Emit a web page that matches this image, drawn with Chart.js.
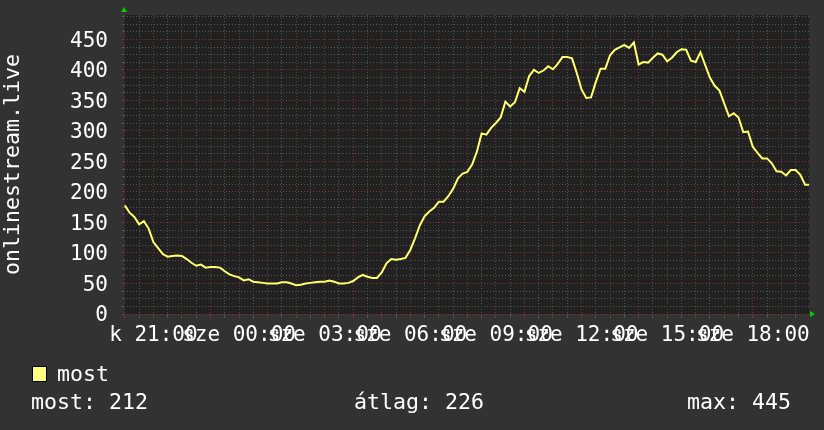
<!DOCTYPE html>
<html><head><meta charset="utf-8">
<script src="https://cdn.jsdelivr.net/npm/chart.js@4/dist/chart.umd.min.js"></script>
<style>
html,body{margin:0;padding:0;background:#323232;}
#wrap{position:relative;width:824px;height:430px;background:#323232;overflow:hidden;}
canvas{position:absolute;left:0;top:0;}
.t{position:absolute;font-family:"DejaVu Sans Mono",monospace;font-size:21.6px;color:#ffffff;line-height:24px;white-space:pre;}
#sw{position:absolute;left:32px;top:366px;width:13px;height:14px;background:#ffff80;border:1px solid #000;}
</style></head><body>
<div id="wrap">
<canvas id="c" width="824" height="430"></canvas>
<div id="sw"></div>
<div class="t" id="legend" style="left:57px;top:362px;"></div>
<div class="t" id="s0" style="left:31px;top:390px;"></div>
<div class="t" id="s1" style="left:354px;top:390px;"></div>
<div class="t" id="s2" style="left:687px;top:390px;"></div>
</div>
<script>
// ---- data ----
const seriesName = "most";
const axisTitle = "onlinestream.live";
const startHour = 20;        // first sample 20:00 (day "k")
const stepMinutes = 10;      // sample interval
const values = [
178,166,159,147,152,140,118,108,98,94,
95,96,95,90,84,79,81,76,77,77,
76,70,65,62,60,55,57,53,52,51,
50,50,50,52,52,50,47,48,50,51,
52,53,53,55,53,50,50,51,54,60,
64,61,59,59,68,83,90,89,90,92,
105,124,145,160,168,174,184,184,193,205,
222,230,233,245,266,296,294,305,313,322,
348,340,347,370,364,390,400,395,399,406,
401,410,421,421,419,395,368,354,355,380,
402,402,424,433,437,441,436,445,409,413,
412,420,427,425,414,420,429,434,433,415,
413,429,408,387,374,366,345,324,329,322,
298,299,274,264,255,255,247,234,233,227,
236,236,228,212,212
];
const tickHours  = [21, 24, 27, 30, 33, 36, 39, 42];
const tickLabels = ["k 21:00","sze 00:00","sze 03:00","sze 06:00","sze 09:00","sze 12:00","sze 15:00","sze 18:00"];
const statTexts  = ["most: 212", "átlag: 226", "max: 445"];
const xMin = 19.97, xMax = 43.97;
const yMin = 0, yMax = 490, yMajor = 50, yMinor = 12.5;

// ---- build ----
const points = values.map((v, i) => ({x: startHour + i * stepMinutes / 60, y: v}));
document.getElementById('legend').textContent = seriesName;
statTexts.forEach((s, i) => document.getElementById('s' + i).textContent = s);

const FONT = {family: '"DejaVu Sans Mono", monospace', size: 21};
const TFONT = {family: '"DejaVu Sans Mono", monospace', size: 21.6};
const RED = '#7c3434', GRAY = '#555555';

const bgPlugin = {
  id: 'bg',
  beforeDraw(chart) {
    const {ctx, chartArea: a} = chart;
    ctx.save();
    ctx.fillStyle = '#212121';
    ctx.fillRect(a.left, a.top, a.right - a.left, a.bottom - a.top);
    ctx.restore();
  },
  afterDraw(chart) {
    const {ctx, chartArea: a} = chart;
    ctx.save();
    ctx.fillStyle = '#00d000';
    ctx.beginPath();
    ctx.moveTo(a.left - 3, a.top - 3);
    ctx.lineTo(a.left + 3, a.top - 3);
    ctx.lineTo(a.left, a.top - 8);
    ctx.closePath(); ctx.fill();
    ctx.beginPath();
    ctx.moveTo(a.right + 1, a.bottom - 3);
    ctx.lineTo(a.right + 1, a.bottom + 3);
    ctx.lineTo(a.right + 6, a.bottom);
    ctx.closePath(); ctx.fill();
    ctx.restore();
  }
};

new Chart(document.getElementById('c'), {
  type: 'line',
  data: {datasets: [{
    label: seriesName, data: points,
    borderColor: '#ffff70', borderWidth: 2, pointRadius: 0, tension: 0, fill: false
  }]},
  options: {
    responsive: false, animation: false, events: [],
    layout: {padding: {left: 0, top: 15, right: 15, bottom: 76}},
    plugins: {legend: {display: false}, tooltip: {enabled: false}},
    scales: {
      x: {
        type: 'linear', min: xMin, max: xMax,
        afterBuildTicks(axis) {
          const t = [];
          for (let h = Math.ceil(xMin * 2) / 2; h <= xMax; h += 0.5) t.push({value: h});
          axis.ticks = t;
        },
        afterFit(s) { s.height = 40; s.paddingLeft = 0; s.paddingRight = 0; },
        grid: {
          color: c => (c.tick && Number.isInteger(c.tick.value)) ? RED : GRAY,
          lineWidth: 1, drawTicks: true, tickLength: 4
        },
        border: {display: false, dash: [1, 2]},
        ticks: {
          autoSkip: false, maxRotation: 0, minRotation: 0, padding: 5,
          color: '#ffffff', font: FONT,
          callback: v => { const k = tickHours.indexOf(v); return k >= 0 ? tickLabels[k] : ''; }
        }
      },
      y: {
        type: 'linear', min: yMin, max: yMax,
        afterBuildTicks(axis) {
          const t = [];
          for (let v = yMin; v < yMax; v += yMinor) t.push({value: v});
          axis.ticks = t;
        },
        afterFit(s) { s.width = 124; s.paddingTop = 0; s.paddingBottom = 0; },
        grid: {
          color: c => (c.tick && c.tick.value % yMajor === 0) ? RED : GRAY,
          lineWidth: 1, drawTicks: true, tickLength: 2
        },
        border: {display: false, dash: [1, 2]},
        title: {display: true, text: axisTitle, color: '#ffffff', font: TFONT, padding: {top: 0, bottom: 0}},
        ticks: {
          autoSkip: false, padding: 14, labelOffset: 2, color: '#ffffff', font: FONT,
          callback: v => (v % yMajor === 0) ? String(v) : ''
        }
      }
    }
  },
  plugins: [bgPlugin]
});
</script>
</body></html>
